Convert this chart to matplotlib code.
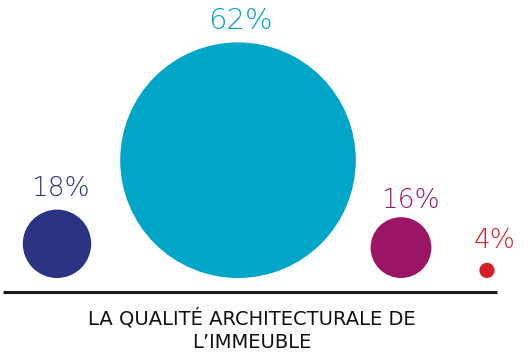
import matplotlib.pyplot as plt
from matplotlib.patches import Circle

labels = ['18%', '62%', '16%', '4%']
values = [18, 62, 16, 4]
colors = ['#2b3483', '#00a6c8', '#9b1566', '#d41f26']
title_lines = ['LA QUALITÉ ARCHITECTURALE DE', 'L\u2019IMMEUBLE']

# layout in pixel units (y grows downward)
x_centers = [57, 238, 401, 487]
baseline = 278
scale = 1.9
label_pos = [(60, 188), (240, 21), (410, 200), (495, 240)]

fig = plt.figure(figsize=(5.32, 3.53), dpi=100)
ax = fig.add_axes([0, 0, 1, 1])
ax.set_xlim(0, 532)
ax.set_ylim(353, 0)
ax.set_aspect('equal')
ax.axis('off')

for x, v, c, lab, (lx, ly) in zip(x_centers, values, colors, labels, label_pos):
    r = v * scale
    ax.add_patch(Circle((x, baseline - r), r, color=c, lw=0))
    ax.text(lx, ly, lab, color=c, fontsize=21 if v > 50 else 19,
            ha='center', va='center', fontfamily='DejaVu Sans',
            fontweight='light')

ax.plot([3, 497], [292, 292], color='#1a1a1a', lw=2.2, solid_capstyle='butt')

ax.text(252, 318, title_lines[0], fontsize=14, ha='center', va='center',
        color='#111111', fontfamily='DejaVu Sans')
ax.text(252, 343, title_lines[1], fontsize=14, ha='center', va='center',
        color='#111111', fontfamily='DejaVu Sans')

fig.savefig('out.png', dpi=100)
